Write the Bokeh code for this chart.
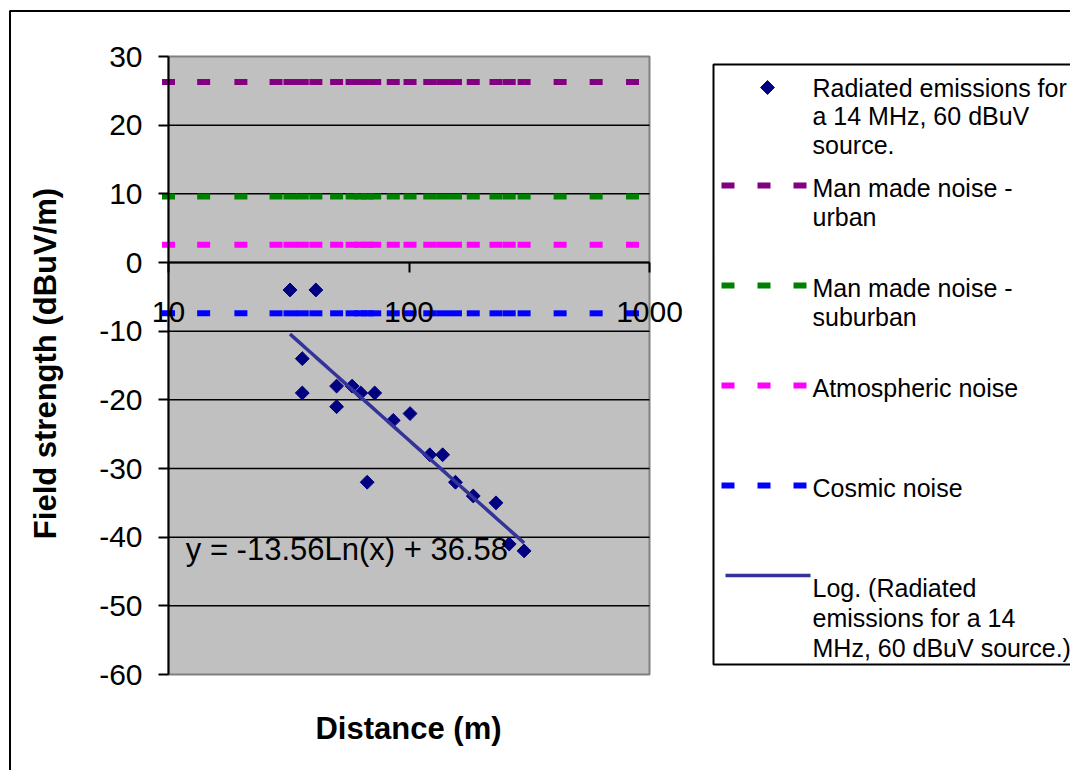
import numpy as np
from bokeh.plotting import figure
from bokeh.models import Range1d, FixedTicker, Label, LinearScale
from bokeh.core.properties import value
from bokeh.embed import file_html
from bokeh.resources import INLINE

# ---------------- data ----------------
distance_m = [32, 41, 36, 36, 50, 50, 58, 63, 72, 67, 86, 101, 122, 138, 156, 185, 230, 261, 301]
field_dbuv = [-4, -4, -14, -19, -18, -21, -18, -19, -19, -32, -23, -22, -28, -28, -32, -34, -35, -41, -42]

noise_x = [10, 14, 20, 28, 32, 36, 41, 50, 58, 63, 67, 72, 86, 101, 122, 138,
           156, 185, 230, 261, 301, 425, 600, 850]
noise_names = ["Man made noise - urban", "Man made noise - suburban",
               "Atmospheric noise", "Cosmic noise"]
noise_levels = [26.3, 9.6, 2.6, -7.4]
noise_colors = ["#800080", "#008000", "#FF00FF", "#0000FF"]

scatter_name = "Radiated emissions for a 14 MHz, 60 dBuV source."
trend_name = "Log. (Radiated emissions for a 14 MHz, 60 dBuV source.)"
trend_label = "y = -13.56Ln(x) + 36.58"
x_title = "Distance (m)"
y_title = "Field strength (dBuV/m)"

y_ticks = [-60, -50, -40, -30, -20, -10, 0, 10, 20, 30]
x_ticks = [10, 100, 1000]

FONT = "Liberation Sans"
SCATTER_COLOR = "#000080"
TREND_COLOR = "#333399"

# ---------------- layout (pixels) ----------------
W, H = 1070, 770
PL, PR, PT, PB = 168, 649, 56, 674          # plot-area edges in canvas pixels

dec = (PR - PL) / (np.log10(x_ticks[-1]) - np.log10(x_ticks[0]))
x0 = 10 ** (np.log10(x_ticks[0]) - PL / dec)
x1 = 10 ** (np.log10(x_ticks[0]) + (W - PL) / dec)
upp = (y_ticks[-1] - y_ticks[0]) / (PB - PT)
y1 = y_ticks[-1] + PT * upp
y0 = y_ticks[0] - (H - PB) * upp

p = figure(width=W, height=H, x_axis_type="log",
           x_range=Range1d(x0, x1), y_range=Range1d(y0, y1),
           output_backend="svg", toolbar_location=None, min_border=0,
           background_fill_color="white", border_fill_color="white",
           outline_line_color=None)
p.extra_x_ranges = {"px": Range1d(0, W)}
p.extra_x_scales = {"px": LinearScale()}
p.extra_y_ranges = {"py": Range1d(H, 0)}
p.extra_y_scales = {"py": LinearScale()}
p.xgrid.visible = False
p.ygrid.visible = False

LG = dict(x_range_name="px", y_range_name="py")

# outer chart border
p.quad(left=9.5, right=W + 50, top=10.5, bottom=H + 50, fill_color=None,
       line_color="black", line_width=2, **LG)

# plot area
p.quad(left=x_ticks[0], right=x_ticks[-1], bottom=y_ticks[0], top=y_ticks[-1],
       fill_color="#C0C0C0", line_color="#808080", line_width=2)
inner = y_ticks[1:-1]
p.segment(x0=[x_ticks[0]] * len(inner), x1=[x_ticks[-1]] * len(inner),
          y0=inner, y1=inner, line_color="black", line_width=1.5)

# y axis at the left edge of the plot area
yax = p.yaxis[0]
yax.fixed_location = x_ticks[0]
yax.bounds = (y_ticks[0], y_ticks[-1])
yax.ticker = FixedTicker(ticks=y_ticks)
yax.major_label_overrides = {t: str(t) for t in y_ticks}
yax.major_label_text_font = FONT
yax.major_label_text_font_size = "30px"
yax.major_label_text_color = "black"
yax.major_tick_out = 10
yax.major_tick_in = 0
yax.minor_tick_out = 0
yax.minor_tick_in = 0
yax.major_tick_line_width = 2
yax.axis_line_width = 2
yax.axis_line_color = "black"
yax.major_label_standoff = 16

# x axis crossing at y = 0
xax = p.xaxis[0]
xax.fixed_location = 0
xax.bounds = (x_ticks[0], x_ticks[-1])
xax.ticker = FixedTicker(ticks=x_ticks)
xax.major_label_overrides = {t: str(t) for t in x_ticks}
xax.major_label_text_font = FONT
xax.major_label_text_font_size = "30px"
xax.major_label_text_color = "black"
xax.major_tick_out = 10
xax.major_tick_in = 0
xax.minor_tick_out = 0
xax.minor_tick_in = 0
xax.major_tick_line_width = 2
xax.axis_line_width = 2
xax.axis_line_color = "black"
xax.major_label_standoff = 29

# noise levels drawn as dash markers
for lvl, col in zip(noise_levels, noise_colors):
    p.rect(x=noise_x, y=[lvl] * len(noise_x), width=13, height=6,
           width_units="screen", height_units="screen",
           fill_color=col, line_color=None)

# radiated emissions
p.scatter(distance_m, field_dbuv, marker="square", angle=np.pi / 4, size=9.8,
          fill_color=SCATTER_COLOR, line_color=SCATTER_COLOR)

# logarithmic trend line fitted to the points
lx = np.log(np.array(distance_m, dtype=float))
a, b = np.polyfit(lx, np.array(field_dbuv, dtype=float), 1)
xx = np.geomspace(min(distance_m), max(distance_m), 60)
p.line(xx, a * np.log(xx) + b, line_color=TREND_COLOR, line_width=3.5)

p.add_layout(Label(x=11.8, y=-41.8, text=trend_label, text_font=FONT,
                   text_font_size="31px", text_baseline="middle",
                   text_color="black"))

# axis titles
p.text(x=[408], y=[728], text=[x_title], text_font=value(FONT),
       text_font_size="31px", text_font_style="bold", text_align="center",
       text_baseline="middle", text_color="black", **LG)
p.text(x=[45], y=[363], text=[y_title], text_font=value(FONT),
       text_font_size="31px", text_font_style="bold", text_align="center",
       text_baseline="middle", text_color="black", angle=np.pi / 2, **LG)

# ---------------- legend ----------------
p.quad(left=713, right=W + 50, top=64, bottom=664, fill_color="white",
       line_color="black", line_width=2, **LG)

TX = 812
text_x, text_y, text_s = [], [], []

p.scatter([767], [87], marker="square", angle=np.pi / 4, size=9.8,
          fill_color=SCATTER_COLOR, line_color=SCATTER_COLOR, **LG)
for t, yy in zip(["Radiated emissions for", "a 14 MHz, 60 dBuV", "source."], [87, 115, 144]):
    text_x.append(TX); text_y.append(yy); text_s.append(t)

noise_wrapped = [["Man made noise -", "urban"], ["Man made noise -", "suburban"],
                 ["Atmospheric noise"], ["Cosmic noise"]]
entry_y = [185, 285, 385, 485]
for col, lines, ey in zip(noise_colors, noise_wrapped, entry_y):
    p.rect(x=[727.5, 763.5, 799.5], y=[ey] * 3, width=13, height=6,
           fill_color=col, line_color=None, **LG)
    for i, t in enumerate(lines):
        text_x.append(TX); text_y.append(ey + 2 + 29 * i); text_s.append(t)

p.line([725, 810], [575, 575], line_color=TREND_COLOR, line_width=3.5, **LG)
for t, yy in zip(["Log. (Radiated", "emissions for a 14", "MHz, 60 dBuV source.)"], [587, 617, 647]):
    text_x.append(TX); text_y.append(yy); text_s.append(t)

p.text(x=text_x, y=text_y, text=text_s, text_font=value(FONT),
       text_font_size="25px", text_baseline="middle", text_color="black", **LG)

open("out.html", "w").write(file_html(p, INLINE))
